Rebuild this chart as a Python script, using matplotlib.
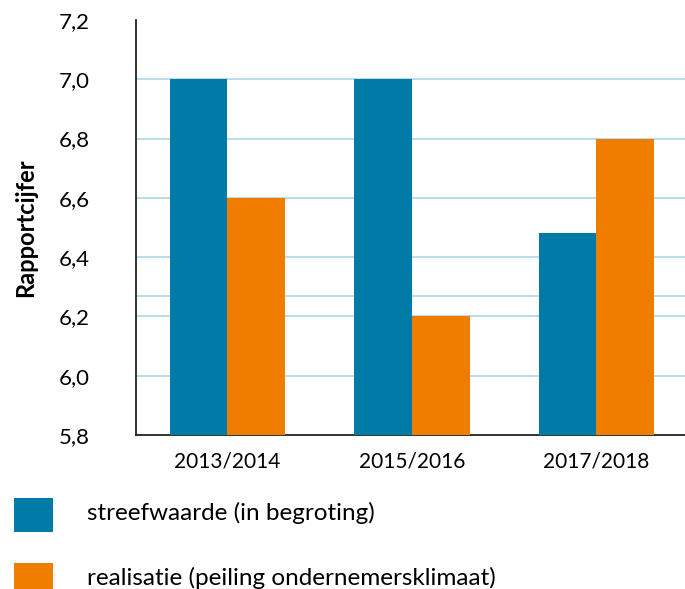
import numpy as np
import matplotlib.pyplot as plt
from matplotlib.patches import Rectangle

plt.rcParams['font.family'] = ['Lato', 'DejaVu Sans']

# data
periods = ['2013/2014', '2015/2016', '2017/2018']
streefwaarde = [7.0, 7.0, 6.48]
realisatie = [6.6, 6.2, 6.8]
series_labels = ['streefwaarde (in begroting)', 'realisatie (peiling ondernemersklimaat)']
y_ticks = [5.8, 6.0, 6.2, 6.4, 6.6, 6.8, 7.0, 7.2]
grid_levels = [6.0, 6.2, 6.27, 6.4, 6.6, 6.8, 7.0]

blue = '#007BA7'
orange = '#EF7D00'
grid_col = '#B5D8EA'

fig = plt.figure(figsize=(6.85, 5.89), dpi=100)
ax = fig.add_axes([0.1985, 0.2615, 0.8015, 0.7046])

x = np.arange(len(periods))
w = 0.314
ax.bar(x - w / 2, streefwaarde, width=w, color=blue, zorder=3)
ax.bar(x + w / 2, realisatie, width=w, color=orange, zorder=3)

for g in grid_levels:
    ax.axhline(g, color=grid_col, lw=1.3, zorder=1)

ax.set_ylim(5.8, 7.2)
ax.set_xlim(-0.496, 2.48)
ax.set_yticks(y_ticks)
ax.set_yticklabels([f'{v:.1f}'.replace('.', ',') for v in y_ticks], fontsize=16)
ax.set_xticks(x)
ax.set_xticklabels(periods, fontsize=15)
ax.tick_params(axis='y', length=0, pad=33)
ax.tick_params(axis='x', length=0, pad=12)
ax.set_ylabel('Rapportcijfer', fontsize=17, fontweight='bold', labelpad=16)

for s in ['top', 'right']:
    ax.spines[s].set_visible(False)
for s in ['left', 'bottom']:
    ax.spines[s].set_linewidth(1.3)
    ax.spines[s].set_color('#222222')

# legend
for i, (lab, col) in enumerate(zip(series_labels, [blue, orange])):
    yb = 0.0968 - i * 0.1105
    fig.add_artist(Rectangle((0.0204, yb), 0.057, 0.0577, transform=fig.transFigure,
                             facecolor=col, edgecolor='none'))
    fig.text(0.127, yb + 0.0325, lab, fontsize=17.5, va='center', ha='left')

fig.savefig('out.png', dpi=100)
